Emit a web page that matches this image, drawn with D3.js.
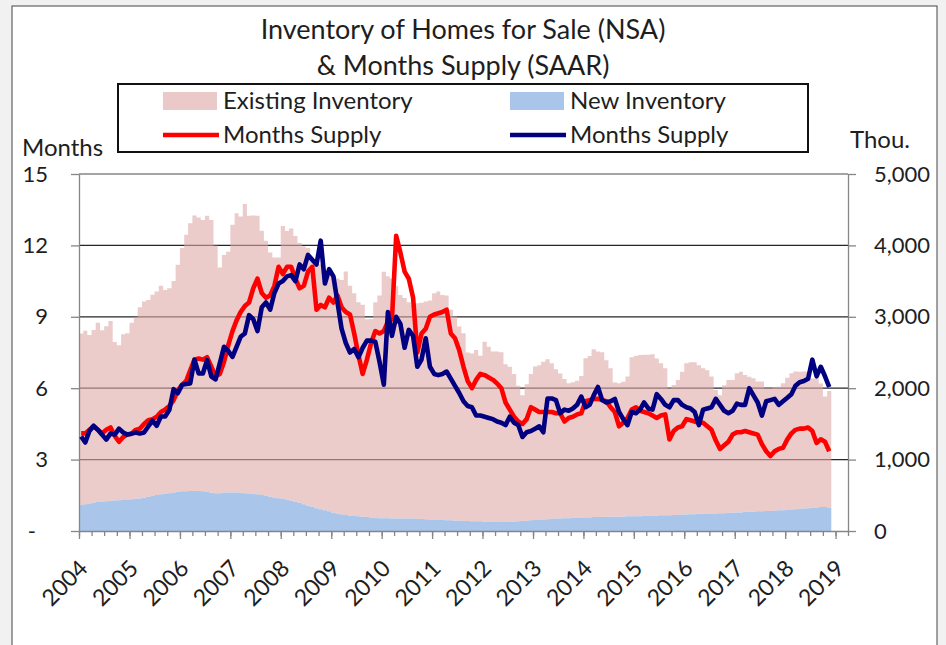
<!DOCTYPE html>
<html>
<head>
<meta charset="utf-8">
<script src="https://cdn.jsdelivr.net/npm/d3@7"></script>
<style>
  body { margin: 0; background: #f1f1f1; }
  svg { display: block; font-family: Lato, "Open Sans", sans-serif; }
</style>
</head>
<body>
<svg id="chart" width="946" height="645"></svg>
<script>

  // monthly data, Jan 2004 .. Nov 2018
  var firstMonth = new Date( 2004, 0, 1 );

  // existing homes for sale, thousands (NSA)
  var existingInv = [
    2400, 2430, 2360, 2420, 2510, 2400, 2450, 2520, 2220, 2170, 2320, 2330, // 2004
    2470, 2540, 2680, 2750, 2760, 2820, 2850, 2920, 2850, 2870, 2960, 3180, // 2005
    3410, 3590, 3750, 3860, 3830, 3800, 3870, 3820, 3470, 3160, 3330, 3370, // 2006
    3750, 3910, 3870, 4050, 3890, 3900, 3900, 3700, 3570, 3420, 3360, 3370, // 2007
    3820, 3760, 3810, 3720, 3640, 3610, 3610, 3460, 3450, 3430, 3370, 3380, // 2008
    3310, 3290, 3280, 3410, 3220, 3120, 3000, 2970, 2770, 2780, 3020, 3120, // 2009
    3450, 3390, 3360, 3260, 3130, 3090, 3030, 2990, 3020, 3030, 3050, 3070, // 2010
    3170, 3200, 3150, 3150, 2950, 2860, 2720, 2630, 2360, 2350, 2400, 2320, // 2011
    2520, 2450, 2390, 2390, 2380, 2210, 2170, 2070, 1900, 1760, 1910, 2050, // 2012
    2150, 2160, 2210, 2240, 2180, 2090, 2030, 1950, 1890, 1900, 1920, 1980, // 2013
    2230, 2260, 2350, 2320, 2310, 2190, 2080, 1880, 1870, 1890, 1960, 2230, // 2014
    2250, 2260, 2260, 2260, 2260, 2200, 2130, 2060, 1780, 1820, 1890, 2000, // 2015
    2120, 2130, 2130, 2080, 2040, 2010, 1920, 1730, 1650, 1790, 1860, 1860, // 2016
    1950, 1970, 1920, 1890, 1870, 1820, 1820, 1720, 1720, 1730, 1730, 1780, // 2017
    1850, 1910, 1930, 1920, 1920, 1910, 1810, 1810, 1730, 1550, 1630        // 2018
  ];

  // new homes for sale, thousands (NSA)
  var newInv = [
    365, 375, 385, 395, 405, 412, 418, 422, 426, 430, 435, 440,
    445, 450, 455, 465, 475, 490, 505, 515, 525, 530, 540, 550,
    555, 558, 560, 560, 560, 555, 545, 535, 530, 530, 535, 540,
    540, 540, 535, 530, 525, 520, 515, 505, 495, 480, 470, 460,
    450, 440, 425, 410, 395, 375, 355, 340, 320, 305, 290, 275,
    255, 245, 235, 225, 215, 210, 205, 200, 195, 190, 185, 180,
    180, 178, 176, 175, 175, 175, 175, 175, 170, 168, 165, 160,
    160, 155, 155, 150, 150, 145, 145, 140, 140, 135, 135, 135,
    130, 130, 125, 125, 125, 125, 130, 130, 135, 140, 145, 150,
    155, 160, 160, 165, 170, 175, 175, 180, 180, 185, 185, 190,
    190, 190, 195, 195, 195, 200, 200, 200, 200, 200, 205, 205,
    205, 205, 210, 210, 215, 215, 220, 220, 220, 225, 225, 230,
    230, 235, 235, 240, 240, 240, 245, 245, 250, 250, 255, 255,
    260, 260, 265, 270, 270, 275, 275, 280, 280, 285, 290, 290,
    295, 300, 305, 310, 315, 320, 325, 330, 335, 335, 330
  ];

  // months supply, existing homes (SAAR)
  var existingSupply = [
    4.1, 4.1, 4.25, 4.4, 4.25, 4.1, 4.25, 4.35, 4.0, 3.75, 3.95, 4.05,
    4.1, 4.25, 4.3, 4.5, 4.65, 4.7, 4.8, 5.0, 5.1, 5.25, 5.5, 5.9,
    6.15, 6.3, 6.75, 7.2, 7.25, 7.2, 7.3, 6.9, 6.5, 6.6, 7.1, 7.8,
    8.4, 8.85, 9.2, 9.45, 9.6, 10.2, 10.6, 10.0, 9.8, 9.9, 10.3, 11.1,
    10.8, 11.1, 11.1, 10.6, 10.2, 10.3, 10.9, 11.1, 9.3, 9.5, 9.4, 9.8,
    9.6, 9.9, 9.4, 9.2, 9.1, 8.3, 7.4, 6.6, 7.2, 7.9, 8.4, 8.3,
    8.4, 8.8, 8.9, 12.4, 11.7, 10.9, 10.6, 9.8, 7.5, 8.3, 8.5, 9.0,
    9.1, 9.15, 9.2, 9.3, 8.3, 8.1, 7.6, 6.9, 6.3, 6.0, 6.35, 6.6,
    6.55, 6.45, 6.35, 6.2, 6.0, 5.4, 5.1, 4.8, 4.6, 4.5, 4.7, 5.2,
    5.1, 5.0, 5.0, 5.0, 5.0, 4.95, 4.95, 4.6, 4.75, 4.8, 4.9, 4.95,
    5.45, 5.5, 5.55, 5.55, 5.5, 5.45, 5.2, 5.0, 4.4, 4.55, 4.75, 5.1,
    5.2, 5.05, 5.0, 4.95, 4.85, 4.75, 4.85, 4.9, 3.85, 4.2, 4.35, 4.4,
    4.7, 4.65, 4.6, 4.55, 4.55, 4.4, 4.25, 3.8, 3.45, 3.6, 3.75, 4.05,
    4.15, 4.15, 4.2, 4.15, 4.1, 4.05, 3.65, 3.35, 3.15, 3.35, 3.45, 3.5,
    3.85, 4.1, 4.25, 4.3, 4.3, 4.35, 4.2, 3.7, 3.85, 3.75, 3.35
  ];

  // months supply, new homes (SAAR)
  var newSupply = [
    3.97, 3.72, 4.2, 4.42, 4.25, 4.05, 3.84, 4.1, 4.05, 4.3, 4.14, 4.05,
    4.09, 4.14, 4.09, 4.14, 4.39, 4.64, 4.42, 4.81, 4.81, 5.09, 5.96, 5.79,
    6.14, 6.18, 6.2, 7.2, 6.62, 6.62, 7.18, 6.49, 6.37, 7.04, 7.74, 7.57,
    7.32, 7.74, 8.16, 8.3, 9.07, 8.9, 8.4, 9.4, 9.6, 9.3, 10.0, 10.4,
    10.5, 10.7, 10.75, 10.5, 11.2, 11.0, 11.6, 11.4, 11.2, 12.2, 10.4, 11.0,
    10.7, 9.6, 8.5, 7.9, 7.5, 7.65, 7.3, 7.7, 8.0, 8.0, 7.95, 7.1,
    6.15, 9.2, 8.2, 9.0, 8.7, 7.7, 8.45, 8.2, 6.9, 7.2, 8.1, 6.9,
    6.6, 6.55, 6.6, 6.7, 6.4, 6.1, 5.8, 5.45, 5.25, 5.2, 4.85, 4.85,
    4.8, 4.75, 4.7, 4.6, 4.55, 4.45, 4.8, 4.55, 4.45, 3.95, 4.15, 4.2,
    4.3, 4.4, 4.15, 5.57, 5.57, 5.5, 4.95, 5.1, 5.05, 5.15, 5.3, 5.65,
    5.2, 5.3, 5.7, 6.05, 5.5, 5.4, 5.45, 5.55, 5.0, 4.7, 4.45, 5.0,
    4.95, 5.1, 5.4, 5.15, 5.1, 5.75, 5.55, 5.3, 5.2, 5.5, 5.5, 5.3,
    5.2, 5.15, 5.0, 4.45, 5.1, 5.15, 5.2, 5.55, 5.3, 5.05, 4.95, 5.05,
    5.35, 5.3, 5.3, 6.0, 5.7, 5.4, 4.85, 5.45, 5.5, 5.55, 5.3, 5.45,
    5.6, 5.75, 6.1, 6.25, 6.3, 6.4, 7.2, 6.5, 6.9, 6.5, 6.05
  ];

  var monthsTicks = [ 0, 3, 6, 9, 12, 15 ];
  var thouTicks = [ 0, 1000, 2000, 3000, 4000, 5000 ];
  var yearTicks = [ 2004, 2005, 2006, 2007, 2008, 2009, 2010, 2011,
                    2012, 2013, 2014, 2015, 2016, 2017, 2018, 2019 ];

  var pink = "#ecc9c9";
  var blue = "#a9c5e9";
  var red = "#ff0000";
  var navy = "#000080";
  var axisGray = "#868686";
  var ink = "#1e1e1e";
  var lineWidth = 4.6;

  var svg = d3.select( "#chart" );

  // frame of the chart
  svg.append( "rect" )
    .attr( "x", 12 ).attr( "y", 6 )
    .attr( "width", 925 ).attr( "height", 660 )
    .attr( "fill", "white" )
    .attr( "stroke", "#444" ).attr( "stroke-width", 1 );

  var months = existingInv.map( function( d, i ) {
    return d3.timeMonth.offset( firstMonth, i );
  } );

  var x = d3.scaleTime()
    .domain( [ new Date( 2004, 0, 1 ), new Date( 2019, 3, 1 ) ] )
    .range( [ 79, 848 ] );
  var yMonths = d3.scaleLinear().domain( [ 0, 15 ] ).range( [ 531, 174 ] );
  var yThou = d3.scaleLinear().domain( [ 0, 5000 ] ).range( [ 531, 174 ] );

  // gridlines
  svg.append( "g" ).selectAll( "line" )
    .data( monthsTicks.filter( function( v ) { return v > 0; } ) )
    .enter().append( "line" )
    .attr( "x1", 79 ).attr( "x2", 848 )
    .attr( "y1", function( v ) { return yMonths( v ); } )
    .attr( "y2", function( v ) { return yMonths( v ); } )
    .attr( "stroke", function( v ) { return v == 15 ? axisGray : "#262626"; } )
    .attr( "stroke-width", 1.3 );

  // stacked inventory: new at the bottom, existing on top
  var rows = months.map( function( m, i ) {
    return { date : m, newInv : newInv[ i ], existing : existingInv[ i ] };
  } );
  var layers = d3.stack().keys( [ "newInv", "existing" ] )( rows );

  var area = d3.area()
    .curve( d3.curveStepAfter )
    .x( function( d ) { return x( d.date ); } )
    .y0( function( d ) { return yThou( d.y0 ); } )
    .y1( function( d ) { return yThou( d.y1 ); } );

  function layerPoints( layer ) {
    var pts = layer.map( function( d, i ) {
      return { date : months[ i ], y0 : d[ 0 ], y1 : d[ 1 ] };
    } );
    var last = pts[ pts.length - 1 ];
    pts.push( { date : d3.timeMonth.offset( last.date, 1 ), y0 : last.y0, y1 : last.y1 } );
    return pts;
  }

  svg.append( "path" )
    .attr( "d", area( layerPoints( layers[ 1 ] ) ) )
    .attr( "fill", "rgb(223,168,168)" )
    .attr( "fill-opacity", 0.6 );

  svg.append( "path" )
    .attr( "d", area( layerPoints( layers[ 0 ] ) ) )
    .attr( "fill", blue );

  // axes
  function styleAxis( g ) {
    g.selectAll( "path, line" ).attr( "stroke", axisGray ).attr( "stroke-width", 1.3 );
    g.selectAll( "text" ).attr( "fill", ink ).style( "font-size", "22px" )
      .style( "font-family", "Lato, 'Open Sans', sans-serif" );
  }

  var leftAxis = svg.append( "g" )
    .attr( "transform", "translate(79,0)" )
    .call( d3.axisLeft( yMonths ).tickValues( monthsTicks )
      .tickSize( 8 ).tickSizeOuter( 0 ).tickPadding( 23 )
      .tickFormat( function( v ) { return v == 0 ? "-" : v; } ) )
    .call( styleAxis );
  leftAxis.selectAll( ".tick text" )
    .filter( function( v ) { return v == 0; } )
    .attr( "x", -43 );

  svg.append( "g" )
    .attr( "transform", "translate(848,0)" )
    .call( d3.axisRight( yThou ).tickValues( thouTicks )
      .tickSize( 8 ).tickSizeOuter( 0 ).tickPadding( 18 )
      .tickFormat( d3.format( "," ) ) )
    .call( styleAxis );

  var quarters = d3.timeMonth.every( 3 ).range( new Date( 2004, 0, 1 ), new Date( 2019, 3, 2 ) );
  svg.append( "g" )
    .attr( "transform", "translate(0,531)" )
    .call( d3.axisBottom( x ).tickValues( quarters )
      .tickSize( 5 ).tickSizeOuter( 0 ).tickFormat( "" ) )
    .call( styleAxis );

  var xAxis = svg.append( "g" )
    .attr( "transform", "translate(0,531)" )
    .call( d3.axisBottom( x )
      .tickValues( yearTicks.map( function( y ) { return new Date( y, 0, 1 ); } ) )
      .tickSize( 8 ).tickSizeOuter( 0 )
      .tickFormat( d3.timeFormat( "%Y" ) ) )
    .call( styleAxis );
  xAxis.select( ".domain" ).remove();
  xAxis.selectAll( ".tick text" )
    .style( "font-size", "23px" )
    .attr( "x", 0 ).attr( "y", 0 ).attr( "dy", "0.35em" )
    .attr( "text-anchor", "end" )
    .attr( "transform", "translate(4,33) rotate(-45)" );

  // months supply lines
  function midMonth( i ) {
    return ( x( months[ i ] ) + x( d3.timeMonth.offset( months[ i ], 1 ) ) ) / 2;
  }
  var line = d3.line()
    .x( function( d, i ) { return midMonth( i ); } )
    .y( function( d ) { return yMonths( d ); } );

  svg.append( "path" )
    .attr( "d", line( existingSupply ) )
    .attr( "fill", "none" ).attr( "stroke", red )
    .attr( "stroke-width", lineWidth ).attr( "stroke-linejoin", "round" );

  svg.append( "path" )
    .attr( "d", line( newSupply ) )
    .attr( "fill", "none" ).attr( "stroke", navy )
    .attr( "stroke-width", lineWidth ).attr( "stroke-linejoin", "round" );

  // title
  var title = svg.append( "text" )
    .attr( "text-anchor", "middle" ).attr( "fill", ink )
    .style( "font-size", "27px" );
  title.append( "tspan" ).attr( "x", 463 ).attr( "y", 39 ).text( "Inventory of Homes for Sale (NSA)" );
  title.append( "tspan" ).attr( "x", 463 ).attr( "y", 75 ).text( "& Months Supply (SAAR)" );

  // axis units
  svg.append( "text" ).attr( "x", 22 ).attr( "y", 156 ).attr( "fill", ink )
    .style( "font-size", "24px" ).text( "Months" );
  svg.append( "text" ).attr( "x", 850 ).attr( "y", 148 ).attr( "fill", ink )
    .style( "font-size", "24px" ).text( "Thou." );

  // legend
  svg.append( "rect" )
    .attr( "x", 118 ).attr( "y", 84 ).attr( "width", 690 ).attr( "height", 68 )
    .attr( "fill", "white" ).attr( "stroke", "#111" ).attr( "stroke-width", 2 );

  var legendItems = [
    { label : "Existing Inventory", kind : "box", color : pink, lx : 163, row : 0 },
    { label : "New Inventory", kind : "box", color : blue, lx : 510, row : 0 },
    { label : "Months Supply", kind : "line", color : red, lx : 163, row : 1 },
    { label : "Months Supply", kind : "line", color : navy, lx : 510, row : 1 }
  ];

  var legend = svg.append( "g" );
  var entries = legend.selectAll( "g" ).data( legendItems ).enter().append( "g" )
    .attr( "transform", function( d ) {
      return "translate(" + d.lx + "," + ( 101 + d.row * 34 ) + ")";
    } );
  entries.filter( function( d ) { return d.kind == "box"; } )
    .append( "rect" )
    .attr( "x", 0 ).attr( "y", -9 ).attr( "width", 54 ).attr( "height", 18 )
    .attr( "fill", function( d ) { return d.color; } );
  entries.filter( function( d ) { return d.kind == "line"; } )
    .append( "line" )
    .attr( "x1", 0 ).attr( "x2", 56 ).attr( "y1", 0 ).attr( "y2", 0 )
    .attr( "stroke", function( d ) { return d.color; } )
    .attr( "stroke-width", lineWidth );
  entries.append( "text" )
    .attr( "x", 60 ).attr( "dy", "0.35em" ).attr( "fill", ink )
    .style( "font-size", "24px" )
    .text( function( d ) { return d.label; } );

</script>
</body>
</html>
